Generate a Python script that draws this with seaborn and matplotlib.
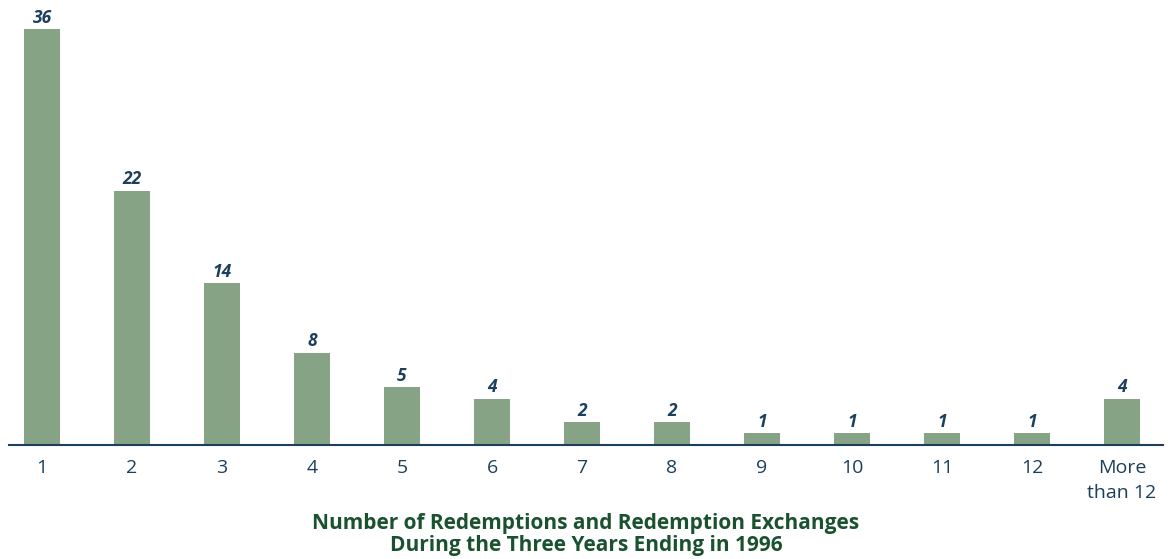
import matplotlib
matplotlib.use("Agg")
import matplotlib.pyplot as plt
import seaborn as sns
import pandas as pd

categories = ["1", "2", "3", "4", "5", "6", "7", "8", "9", "10", "11", "12", "More\nthan 12"]
values = [36, 22, 14, 8, 5, 4, 2, 2, 1, 1, 1, 1, 4]
xlabel = "Number of Redemptions and Redemption Exchanges\nDuring the Three Years Ending in 1996"

sns.set_theme(style="white")
plt.rcParams['font.family'] = ['Open Sans', 'DejaVu Sans']

df = pd.DataFrame({"cat": categories, "val": values})

fig = plt.figure(figsize=(11.71, 5.59), dpi=100)
ax = fig.add_axes([9/1171, (559-445)/559, (1163-9)/1171, 445/559])
sns.barplot(data=df, x="cat", y="val", color="#86A386", saturation=1, width=0.4,
            linewidth=0, ax=ax)

for i, v in enumerate(values):
    ax.text(i, v + 0.2, str(v), ha="center", va="bottom", fontsize=12.5,
            fontweight="bold", fontstyle="italic", color="#1B3F5C")

ax.set_xlim(-0.367, 12.456)
ax.set_ylim(0, 38.5)
for s in ["top", "right", "left"]:
    ax.spines[s].set_visible(False)
ax.spines["bottom"].set_color("#1B3F5C")
ax.spines["bottom"].set_linewidth(1.5)
ax.set_yticks([])
ax.set_ylabel("")
ax.tick_params(axis="x", length=0, pad=10, labelsize=14, labelcolor="#1B3F5C")
for lab in ax.get_xticklabels():
    lab.set_linespacing(1.5)
ax.set_xlabel(xlabel, fontsize=15, fontweight="bold", color="#1A5230", linespacing=1.1)
ax.xaxis.set_label_coords(0.5, -0.152)

fig.savefig("out.png", dpi=100)
